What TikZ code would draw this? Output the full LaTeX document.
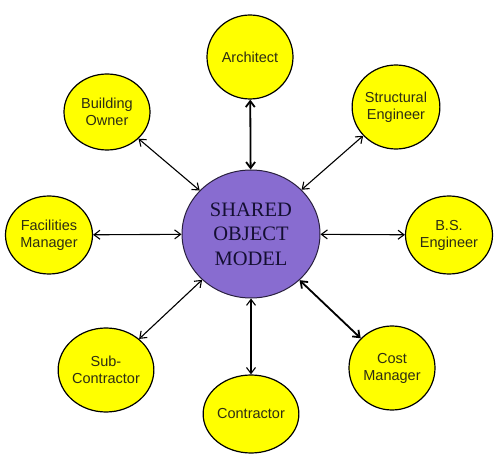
\documentclass[tikz,border=0pt]{standalone}
\usepackage{fontspec}
\setmainfont{Liberation Serif}
\setsansfont{Liberation Sans}
\usetikzlibrary{shapes.geometric,arrows.meta}
\definecolor{rolefill}{RGB}{255,255,0}
\definecolor{hubfill}{RGB}{136,108,208}
\definecolor{roletext}{RGB}{45,45,20}
\definecolor{hubtext}{RGB}{20,15,50}
\tikzset{
  role/.style={ellipse, draw=black, line width=1.2pt, fill=rolefill, inner sep=0pt,
    minimum width=86pt, minimum height=84pt, align=center,
    font=\sffamily\fontsize{14.5}{17}\selectfont, text=roletext},
  hub/.style={ellipse, draw=black!70!hubfill, line width=1pt, fill=hubfill, inner sep=0pt,
    minimum width=138pt, minimum height=128pt, align=center,
    font=\rmfamily\fontsize{20.5}{24.5}\selectfont, text=hubtext},
  link/.style={{Straight Barb[length=6pt,width=9pt]}-{Straight Barb[length=6pt,width=9pt]}, line width=1.1pt, black},
  boldlink/.style={link, line width=1.8pt}
}
\begin{document}
\begin{tikzpicture}[x=1pt,y=-1pt]
\useasboundingbox (0,0) rectangle (495,462);
\node[hub] (som) at (251,234) {SHARED\\OBJECT\\MODEL};
\node[role] (arch) at (250,57) {Architect};
\node[role, minimum height=76pt] (own) at (107,112) {Building\\Owner};
\node[role] (struct) at (396,107) {Structural\\Engineer};
\node[role, minimum width=87pt, minimum height=78pt] (fac) at (49,235) {Facilities\\Manager};
\node[role, minimum width=87pt, minimum height=78pt] (bse) at (449,235) {B.S.\\Engineer};
\node[role] (sub) at (106,370) {Sub-\\Contractor};
\node[role] (cost) at (392,368) {Cost\\Manager};
\node[role, minimum width=87pt, minimum height=78pt] (con) at (251,414) {Contractor};
\draw[boldlink] (arch) -- (som);
\draw[link] (own) -- (som);
\draw[link] (struct) -- (som);
\draw[link] (fac) -- (som);
\draw[link] (bse) -- (som);
\draw[link] (sub) -- (som);
\draw[boldlink] (cost) -- (som);
\draw[link] (con) -- (som);
\end{tikzpicture}
\end{document}
